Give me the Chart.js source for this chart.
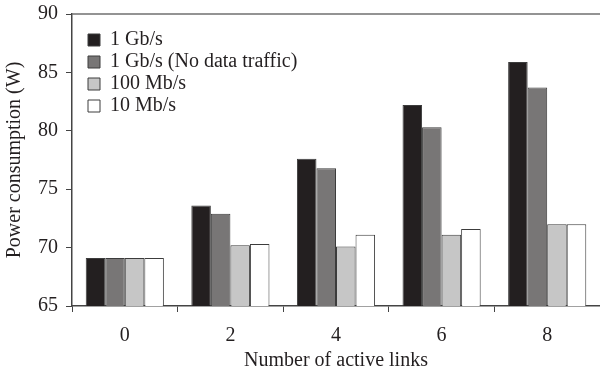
<!DOCTYPE html>
<html>
<head>
<meta charset="utf-8">
<script src="https://cdn.jsdelivr.net/npm/chart.js@4.4.1/dist/chart.umd.min.js"></script>
<style>
  html, body { margin: 0; padding: 0; background: #fff; }
  #wrap { width: 600px; height: 369px; }
</style>
</head>
<body>
<div id="wrap"><canvas id="chart" width="600" height="369"></canvas></div>
<script>
// Number of active links
const links = ['0', '2', '4', '6', '8'];

// Power consumption (W) per link speed
const gb1 = [69.1, 73.6, 77.6, 82.2, 85.9];
const gb1NoTraffic = [69.1, 72.9, 76.8, 80.3, 83.7];
const mb100 = [69.1, 70.2, 70.1, 71.1, 72.0];
const mb10 = [69.1, 70.3, 71.1, 71.6, 72.0];

const yTicks = [65, 70, 75, 80, 85, 90];

const serif = 'Liberation Serif';
const ink = '#231f20';

// top frame line of the plot, and legend moved inside the plot
const frameAndLegend = {
    id: 'frameAndLegend',
    afterLayout(chart) {
        const lg = chart.legend;
        lg.left = 86;
        lg.top = 28;
    },
    afterDraw(chart) {
        const a = chart.chartArea;
        const ctx = chart.ctx;
        ctx.save();
        ctx.strokeStyle = '#6f6f6f';
        ctx.lineWidth = 1.5;
        ctx.beginPath();
        ctx.moveTo(a.left, a.top);
        ctx.lineTo(a.right, a.top);
        ctx.stroke();
        ctx.restore();
    }
};

function barSet(label, data, color) {
    return {
        label: label,
        data: data,
        backgroundColor: color,
        borderColor: '#3c3c3c',
        borderWidth: 1,
        borderSkipped: 'bottom',
        categoryPercentage: 0.74,
        barPercentage: 1.0
    };
}

const ctx = document.getElementById('chart').getContext('2d');
new Chart(ctx, {
    type: 'bar',
    data: {
        labels: links,
        datasets: [
            barSet('1 Gb/s', gb1, ink),
            barSet('1 Gb/s (No data traffic)', gb1NoTraffic, '#787676'),
            barSet('100 Mb/s', mb100, '#c6c6c6'),
            barSet('10 Mb/s', mb10, '#ffffff')
        ]
    },
    plugins: [frameAndLegend],
    options: {
        responsive: false,
        animation: false,
        layout: { padding: { top: 14, right: 0, left: 0, bottom: 0 } },
        plugins: {
            legend: {
                position: 'chartArea',
                align: 'start',
                labels: {
                    boxWidth: 12,
                    boxHeight: 12,
                    padding: 2,
                    color: ink,
                    font: { family: serif, size: 20, lineHeight: 1.0 }
                }
            },
            tooltip: { enabled: false }
        },
        scales: {
            x: {
                grid: {
                    offset: true,
                    drawOnChartArea: false,
                    drawTicks: true,
                    tickLength: 6,
                    color: '#444'
                },
                border: { display: true, color: '#444', width: 1.5 },
                ticks: {
                    color: ink,
                    padding: 12,
                    font: { family: serif, size: 20 }
                },
                title: {
                    display: true,
                    text: 'Number of active links',
                    color: ink,
                    padding: { top: 0, bottom: 0 },
                    font: { family: serif, size: 20, lineHeight: 0.8 }
                },
                afterFit(scale) {
                    scale.height = 63;
                    scale.paddingLeft = 0;
                    scale.paddingRight = 0;
                }
            },
            y: {
                min: 65,
                max: 90,
                afterBuildTicks(scale) {
                    scale.ticks = yTicks.map(v => ({ value: v }));
                },
                grid: {
                    drawOnChartArea: false,
                    drawTicks: true,
                    tickLength: 6,
                    color: '#444'
                },
                border: { display: true, color: '#444', width: 1.5 },
                ticks: {
                    color: ink,
                    padding: 8,
                    font: { family: serif, size: 20 }
                },
                title: {
                    display: true,
                    text: 'Power consumption (W)',
                    color: ink,
                    padding: { top: 3, bottom: 2 },
                    font: { family: serif, size: 20 }
                },
                afterFit(scale) {
                    scale.width = 72;
                    scale.paddingTop = 0;
                    scale.paddingBottom = 0;
                }
            }
        }
    }
});
</script>
</body>
</html>
